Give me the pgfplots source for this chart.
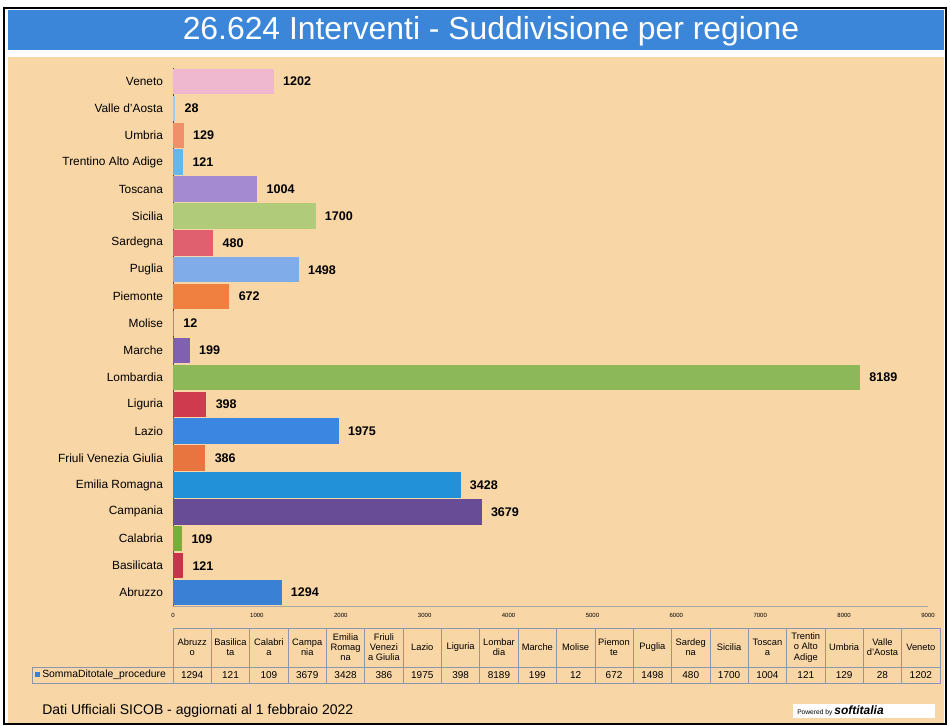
\documentclass[border=0pt]{standalone}
\usepackage{fontspec}
\setmainfont{Liberation Sans}
\usepackage{pgfplots}
\pgfplotsset{compat=1.18}
\pgfplotsset{/pgf/number format/1000 sep={}}

\definecolor{peach}{RGB}{248,214,166}
\definecolor{titleblue}{RGB}{59,134,216}
\definecolor{gridc}{RGB}{140,150,175}
\definecolor{cAbr}{RGB}{58,128,213}
\definecolor{cBas}{RGB}{200,52,76}
\definecolor{cCal}{RGB}{122,172,60}
\definecolor{cCam}{RGB}{104,76,150}
\definecolor{cEmi}{RGB}{34,145,216}
\definecolor{cFri}{RGB}{232,116,64}
\definecolor{cLaz}{RGB}{58,134,224}
\definecolor{cLig}{RGB}{208,58,78}
\definecolor{cLom}{RGB}{141,184,90}
\definecolor{cMar}{RGB}{128,96,176}
\definecolor{cMol}{RGB}{74,168,232}
\definecolor{cPie}{RGB}{240,128,64}
\definecolor{cPug}{RGB}{128,172,234}
\definecolor{cSar}{RGB}{224,96,112}
\definecolor{cSic}{RGB}{176,204,122}
\definecolor{cTos}{RGB}{164,138,208}
\definecolor{cTre}{RGB}{96,184,240}
\definecolor{cUmb}{RGB}{240,144,106}
\definecolor{cVal}{RGB}{160,200,240}
\definecolor{cVen}{RGB}{240,184,207}

\begin{document}
\begin{tikzpicture}[x=0.75pt,y=0.75pt]
% page, background and title bar (1 unit = 1 px of the reference)
\fill[white] (0,0) rectangle (950,725);
\fill[peach] (8,0) rectangle (944,668);
\fill[titleblue] (8,675) rectangle (944,715);
\draw[black, line width=1.5pt] (4,1) rectangle (946,717);
\node[white, font=\fontsize{23.9}{28}\selectfont] at (491,694)
  {26.624 Interventi - Suddivisione per regione};

\begin{axis}[
    at={(129.75pt,89.25pt)}, anchor=south west,
    scale only axis, width=566.25pt, height=403.5pt,
    xbar, bar width=19pt, bar shift=0pt,
    xmin=0, xmax=9000, ymin=-0.5, ymax=19.5,
    xtick={0,1000,...,9000},
    ytick={0,...,19},
    yticklabels={Abruzzo, Basilicata, Calabria, Campania, Emilia Romagna,
      Friuli Venezia Giulia, Lazio, Liguria, Lombardia, Marche, Molise,
      Piemonte, Puglia, Sardegna, Sicilia, Toscana, Trentino Alto Adige,
      Umbria, Valle d'Aosta, Veneto},
    axis lines*=left,
    x axis line style={-, gray!70},
    y axis line style={-, gray!60!black},
    major tick length=0pt,
    /pgf/number format/assume math mode=true,
    xticklabel style={font=\fontsize{4.5}{5}\selectfont, yshift=-2pt},
    yticklabel style={font=\fontsize{8.9}{10}\selectfont, xshift=-4pt},
    nodes near coords,
    nodes near coords style={font=\fontsize{9.4}{11}\bfseries\selectfont, xshift=3.5pt},
    clip=false,
]
\addplot[fill=cAbr, draw=none] coordinates {(1294,0)};
\addplot[fill=cBas, draw=none] coordinates {(121,1)};
\addplot[fill=cCal, draw=none] coordinates {(109,2)};
\addplot[fill=cCam, draw=none] coordinates {(3679,3)};
\addplot[fill=cEmi, draw=none] coordinates {(3428,4)};
\addplot[fill=cFri, draw=none] coordinates {(386,5)};
\addplot[fill=cLaz, draw=none] coordinates {(1975,6)};
\addplot[fill=cLig, draw=none] coordinates {(398,7)};
\addplot[fill=cLom, draw=none] coordinates {(8189,8)};
\addplot[fill=cMar, draw=none] coordinates {(199,9)};
\addplot[fill=cMol, draw=none] coordinates {(12,10)};
\addplot[fill=cPie, draw=none] coordinates {(672,11)};
\addplot[fill=cPug, draw=none] coordinates {(1498,12)};
\addplot[fill=cSar, draw=none] coordinates {(480,13)};
\addplot[fill=cSic, draw=none] coordinates {(1700,14)};
\addplot[fill=cTos, draw=none] coordinates {(1004,15)};
\addplot[fill=cTre, draw=none] coordinates {(121,16)};
\addplot[fill=cUmb, draw=none] coordinates {(129,17)};
\addplot[fill=cVal, draw=none] coordinates {(28,18)};
\addplot[fill=cVen, draw=none] coordinates {(1202,19)};
\end{axis}

% data table under the chart
\draw[gridc, line width=0.5pt] (173,42) rectangle (940,97);
\draw[gridc, line width=0.5pt] (32,42) rectangle (173,58);
\draw[gridc, line width=0.5pt] (173,58) -- (940,58);
\foreach \lab/\val [count=\i from 0] in {
    {Abruzz\\o}/1294, {Basilica\\ta}/121, {Calabri\\a}/109, {Campa\\nia}/3679,
    {Emilia\\Romag\\na}/3428, {Friuli\\Venezi\\a Giulia}/386, {Lazio}/1975,
    {Liguria}/398, {Lombar\\dia}/8189, {Marche}/199, {Molise}/12,
    {Piemon\\te}/672, {Puglia}/1498, {Sardeg\\na}/480, {Sicilia}/1700,
    {Toscan\\a}/1004, {Trentin\\o Alto\\Adige}/121, {Umbria}/129,
    {Valle\\d'Aosta}/28, {Veneto}/1202} {
  \draw[gridc, line width=0.5pt] (173+\i*38.35,42) -- (173+\i*38.35,97);
  \node[align=center, inner sep=0pt, font=\fontsize{7}{7.6}\selectfont]
    at (173+\i*38.35+19.18,77.5) {\lab};
  \node[inner sep=0pt, font=\fontsize{7.5}{8}\selectfont]
    at (173+\i*38.35+19.18,50) {\val};
}
\fill[cAbr] (35,48) rectangle (40,53);
\node[anchor=west, inner sep=0pt, font=\fontsize{7.8}{8}\selectfont] at (42,50)
  {SommaDitotale\_procedure};

% footer
\node[anchor=west, inner sep=0pt, font=\fontsize{10.5}{12}\selectfont] at (42,14)
  {Dati Ufficiali SICOB - aggiornati al 1 febbraio 2022};
\fill[white] (793,7) rectangle (935,21);
\node[anchor=west, inner sep=0pt] at (797,14)
  {\fontsize{5}{6}\selectfont Powered by\ \fontsize{9}{10}\bfseries\itshape softitalia};
\end{tikzpicture}
\end{document}
